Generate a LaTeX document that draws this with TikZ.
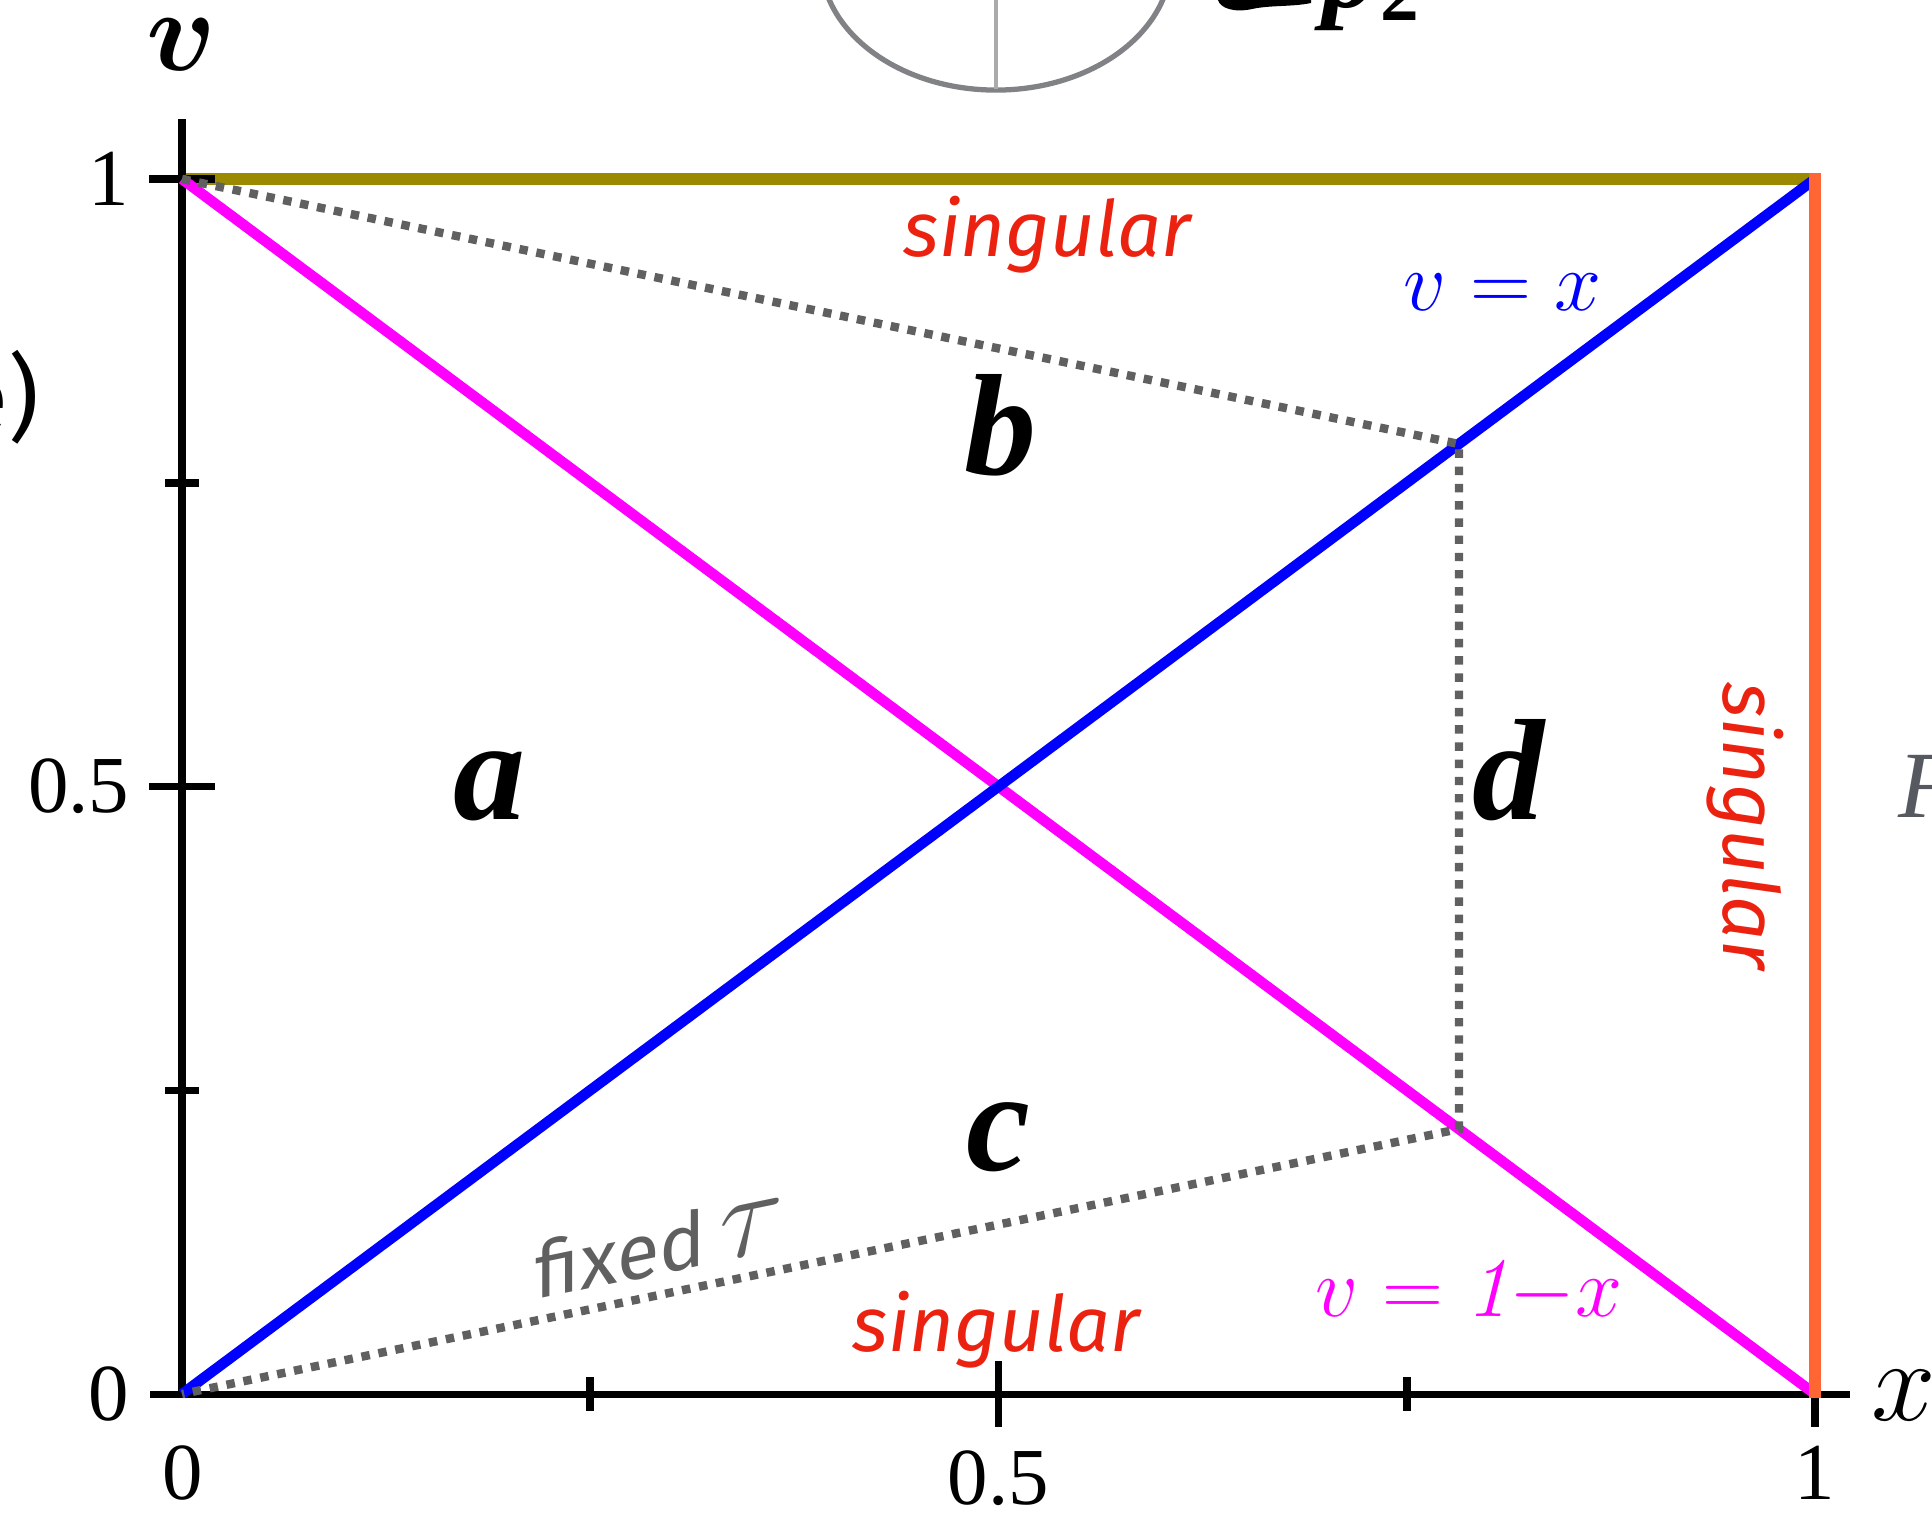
\documentclass[tikz,border=0pt]{standalone}
\usepackage{graphicx}
\usepackage{bm}
\usepackage{fontspec}
\newfontfamily\firasans{Fira Sans}
\newfontfamily\tms{Liberation Serif}
\newcommand\myfs[1]{\fontsize{#1}{#1}\selectfont}
\newcommand\mathfs{\fontsize{20.74}{24}\selectfont}
\definecolor{olivec}{RGB}{155,138,0}
\definecolor{orangec}{RGB}{255,102,51}
\definecolor{redc}{RGB}{236,34,17}
\definecolor{magc}{RGB}{255,0,255}
\definecolor{bluec}{RGB}{0,0,255}
\definecolor{dotgray}{RGB}{96,96,96}
\definecolor{ellgray}{RGB}{128,130,134}
\definecolor{vgray}{RGB}{171,171,171}
\definecolor{fgray}{RGB}{86,90,96}
\tikzset{
  axisline/.style={line width=2pt, draw=black},
  tickmark/.style={line width=2pt, draw=black},
  edgeline/.style={line width=3.5pt},
  diagline/.style={line width=3pt},
  dotline/.style={line width=2.4pt, draw=dotgray, dash pattern=on 2.4pt off 2.5pt},
  ticklbl/.style={inner sep=0pt, font=\tms\myfs{23}},
  singlbl/.style={inner sep=0pt, text=redc, font=\firasans\itshape\myfs{22}},
  region/.style={inner sep=0pt, font=\tms\bfseries\itshape\myfs{41}},
  eqlbl/.style={inner sep=0pt, font=\mathfs, scale=1.16},
  axlbl/.style={inner sep=0pt, font=\mathfs, scale=1.59}
}
\begin{document}
\begin{tikzpicture}[x=0.01cm, y=-0.01cm]
\useasboundingbox (0,0) rectangle (1932,1514);
\clip (0,0) rectangle (1932,1514);
% key points
\coordinate (O) at (182,1394);
\coordinate (X1) at (1815,1394);
\coordinate (X1b) at (1815,1398);
\coordinate (V1) at (182,179);
\coordinate (P11) at (1815,179);
\coordinate (P11t) at (1815,173);
\coordinate (Dup) at (1459,444);
\coordinate (Dlo) at (1459,1129);
\coordinate (XaxL) at (150,1394);
\coordinate (XaxR) at (1850,1394);
\coordinate (YaxT) at (182,119);
% partial elements at the top and sides
\draw[draw=ellgray, line width=1.5pt] (996,-40) ellipse [x radius=1.75cm, y radius=1.3cm];
\draw[draw=vgray, line width=1.2pt] (996,89) -- (996,0);
\fill[black] (1218,0) .. controls (1220,8) and (1234,13) .. (1252,9)
  .. controls (1270,5) and (1292,7) .. (1311,3) -- (1311,0) -- cycle;
\node[inner sep=0pt, anchor=base west, font=\tms\bfseries\itshape\myfs{31}] (pp) at (1322,7) {p};
\node[inner sep=0pt, anchor=base west, font=\tms\bfseries\myfs{22}] (p2) at (1380,20) {2};
\node[inner sep=0pt, anchor=base east, font=\firasans\myfs{27}] (elbl) at (40,430) {e)};
\node[inner sep=0pt, anchor=base west, text=fgray, font=\tms\itshape\myfs{27}] (Flbl) at (1898,817) {F};
% top edge
\draw[edgeline, draw=olivec] (V1) -- (P11);
% axes
\draw[axisline] (XaxL) -- (XaxR);
\draw[axisline] (O) -- (YaxT);
% y ticks
\draw[tickmark] (149,179) -- (215,179);
\draw[tickmark] (149,786.5) -- (215,786.5);
\draw[tickmark] (165,483) -- (199,483);
\draw[tickmark] (165,1090) -- (199,1090);
% x ticks
\draw[tickmark] (998.5,1361) -- (998.5,1427);
\draw[tickmark] (1815,1361) -- (1815,1427);
\draw[tickmark] (590,1377) -- (590,1411);
\draw[tickmark] (1407,1377) -- (1407,1411);
% diagonals
\draw[diagline, draw=magc] (V1) -- (X1);
\draw[diagline, draw=bluec] (O) -- (P11);
% right edge
\draw[edgeline, draw=orangec] (X1b) -- (P11t);
% fixed-tau path
\draw[dotline] (V1) -- (Dup) -- (Dlo) -- (O);
% tick labels
\node[ticklbl, anchor=east] (ly1) at (130,179) {1};
\node[ticklbl, anchor=east] (ly05) at (130,786.5) {0.5};
\node[ticklbl, anchor=east] (ly0) at (130,1394) {0};
\node[ticklbl, anchor=north] (lx0) at (183,1445) {0};
\node[ticklbl, anchor=north] (lx05) at (998.5,1450) {0.5};
\node[ticklbl, anchor=north] (lx1) at (1815,1445) {1};
% axis labels
\node[axlbl] (vlbl) at (182,45) {$\bm{v}$};
\node[axlbl] (xlbl) at (1904,1396) {$x$};
% singular labels
\node[singlbl, anchor=base] (sing1) at (1047,256) {singular};
\node[singlbl, anchor=base] (sing2) at (996,1351) {singular};
\node[singlbl, anchor=base, rotate=-90] (sing3) at (1723,826) {singular};
% line labels
\node[eqlbl, text=bluec, anchor=base] (eqa) at (1503,310) {$v = x$};
\node[eqlbl, text=magc, anchor=base] (eqb) at (1469,1316) {$v = \mathit{1}{-}x$};
% regions
\node[region] (ra) at (490,786) {a};
\node[region] (rb) at (1001,425) {b};
\node[region] (rc) at (998,1137) {c};
\node[region] (rd) at (1509,770) {d};
% fixed tau
\node[inner sep=0pt, anchor=base west, text=dotgray, yslant=0.207] (ftau) at (535,1300)
  {\firasans\myfs{22}fixed\hspace{4pt}\mathfs\scalebox{1.64}{$\tau$}};
\end{tikzpicture}
\end{document}
